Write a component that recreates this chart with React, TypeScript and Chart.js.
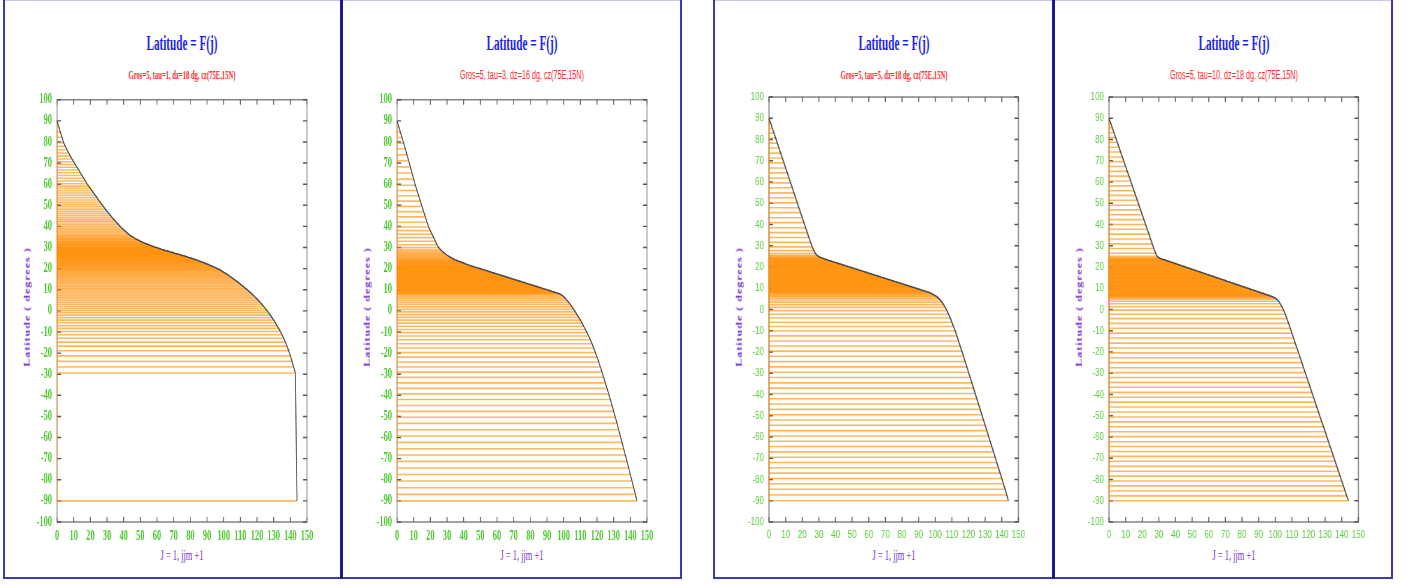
import React, { useEffect, useRef } from "react";
import { Chart, registerables } from "chart.js";
Chart.register(...registerables);

// Latitude (degrees) read for each grid index j = 0 .. 144 (jjm + 1 points)
const LAT_TAU1 = [
  90.0, 87.4, 84.8, 82.2, 79.6, 77.9, 76.3, 74.8, 73.3, 71.9,
  70.6, 69.3, 68.0, 66.7, 65.4, 64.1, 62.8, 61.5, 60.2, 59.1,
  58.0, 56.9, 55.8, 54.7, 53.6, 52.5, 51.4, 50.3, 49.3, 48.2,
  47.2, 46.2, 45.3, 44.3, 43.4, 42.5, 41.6, 40.8, 39.9, 39.1,
  38.4, 37.7, 37.0, 36.3, 35.7, 35.2, 34.7, 34.2, 33.8, 33.4,
  33.0, 32.6, 32.3, 31.9, 31.6, 31.3, 31.0, 30.7, 30.4, 30.1,
  29.9, 29.6, 29.4, 29.1, 28.9, 28.6, 28.4, 28.2, 27.9, 27.7,
  27.5, 27.2, 27.0, 26.8, 26.6, 26.3, 26.1, 25.8, 25.6, 25.3,
  25.1, 24.8, 24.5, 24.3, 24.0, 23.7, 23.4, 23.1, 22.8, 22.5,
  22.2, 21.9, 21.5, 21.2, 20.8, 20.5, 20.1, 19.7, 19.3, 18.8,
  18.3, 17.8, 17.3, 16.8, 16.2, 15.7, 15.1, 14.5, 13.9, 13.3,
  12.7, 12.0, 11.4, 10.7, 10.1, 9.4, 8.7, 8.0, 7.2, 6.4,
  5.6, 4.8, 3.9, 3.0, 2.1, 1.1, 0.1, -0.9, -2.0, -3.2,
  -4.4, -5.6, -7.0, -8.3, -9.8, -11.3, -13.0, -14.8, -16.7, -18.9,
  -21.3, -23.9, -26.6, -29.4, -90.0,
];

const LAT_TAU3 = [
  90.0, 87.4, 84.7, 82.1, 79.4, 76.7, 73.9, 71.1, 68.2, 65.3,
  62.4, 59.5, 57.0, 54.5, 52.0, 49.5, 47.0, 44.5, 42.0, 39.7,
  38.0, 36.3, 34.7, 33.0, 31.3, 30.0, 29.1, 28.3, 27.6, 27.0,
  26.4, 25.9, 25.4, 24.9, 24.5, 24.1, 23.8, 23.5, 23.2, 22.9,
  22.6, 22.3, 22.0, 21.7, 21.4, 21.2, 20.9, 20.7, 20.4, 20.2,
  20.0, 19.7, 19.5, 19.2, 19.0, 18.7, 18.5, 18.2, 18.0, 17.7,
  17.5, 17.2, 17.0, 16.7, 16.5, 16.2, 16.0, 15.7, 15.5, 15.2,
  15.0, 14.7, 14.5, 14.2, 14.0, 13.7, 13.5, 13.2, 13.0, 12.7,
  12.5, 12.2, 12.0, 11.7, 11.5, 11.2, 11.0, 10.7, 10.5, 10.2,
  10.0, 9.7, 9.5, 9.2, 9.0, 8.7, 8.5, 8.2, 7.9, 7.4,
  6.7, 5.9, 5.0, 4.0, 3.0, 1.9, 0.7, -0.5, -1.8, -3.1,
  -4.4, -5.8, -7.3, -8.8, -10.3, -11.9, -13.7, -15.6, -17.6, -19.7,
  -21.9, -24.2, -26.6, -29.0, -31.5, -34.1, -36.7, -39.3, -42.0, -44.8,
  -47.6, -50.4, -53.3, -56.3, -59.3, -62.3, -65.3, -68.3, -71.3, -74.4,
  -77.5, -80.6, -83.8, -86.9, -90.0,
];

const LAT_TAU5 = [
  90.0, 87.7, 85.3, 83.0, 80.7, 78.3, 76.0, 73.6, 71.3, 69.0,
  66.6, 64.3, 61.9, 59.6, 57.3, 54.9, 52.6, 50.2, 47.9, 45.6,
  43.2, 40.9, 38.5, 36.2, 33.9, 31.6, 29.5, 27.7, 26.3, 25.4,
  24.9, 24.5, 24.2, 23.9, 23.6, 23.4, 23.1, 22.9, 22.6, 22.4,
  22.1, 21.9, 21.6, 21.4, 21.1, 20.9, 20.6, 20.4, 20.1, 19.9,
  19.6, 19.4, 19.1, 18.9, 18.6, 18.4, 18.1, 17.9, 17.6, 17.4,
  17.1, 16.9, 16.6, 16.4, 16.1, 15.9, 15.6, 15.4, 15.1, 14.9,
  14.6, 14.4, 14.1, 13.9, 13.6, 13.4, 13.1, 12.9, 12.6, 12.4,
  12.1, 11.9, 11.6, 11.4, 11.1, 10.9, 10.6, 10.4, 10.1, 9.9,
  9.6, 9.4, 9.1, 8.9, 8.6, 8.4, 8.1, 7.8, 7.4, 7.0,
  6.5, 6.0, 5.3, 4.5, 3.5, 2.3, 1.0, -0.5, -2.2, -4.0,
  -6.0, -8.0, -10.1, -12.4, -14.8, -17.2, -19.6, -22.0, -24.5, -27.0,
  -29.5, -32.0, -34.5, -37.0, -39.5, -42.0, -44.5, -47.0, -49.5, -52.0,
  -54.5, -57.0, -59.5, -62.0, -64.5, -67.0, -69.5, -72.0, -74.5, -77.0,
  -79.5, -82.0, -84.6, -87.3, -90.0,
];

const LAT_TAU10 = [
  90.0, 87.7, 85.5, 83.2, 80.9, 78.7, 76.4, 74.1, 71.8, 69.6,
  67.3, 65.0, 62.8, 60.5, 58.2, 55.9, 53.7, 51.4, 49.1, 46.9,
  44.6, 42.3, 40.0, 37.8, 35.5, 33.2, 30.9, 28.7, 26.5, 25.0,
  24.4, 24.0, 23.7, 23.5, 23.2, 22.9, 22.7, 22.4, 22.1, 21.9,
  21.6, 21.3, 21.1, 20.8, 20.5, 20.3, 20.0, 19.7, 19.5, 19.2,
  18.9, 18.7, 18.4, 18.1, 17.9, 17.6, 17.3, 17.1, 16.8, 16.5,
  16.3, 16.0, 15.7, 15.5, 15.2, 14.9, 14.7, 14.4, 14.1, 13.9,
  13.6, 13.3, 13.1, 12.8, 12.5, 12.3, 12.0, 11.7, 11.5, 11.2,
  10.9, 10.7, 10.4, 10.1, 9.9, 9.6, 9.3, 9.1, 8.8, 8.5,
  8.3, 8.0, 7.7, 7.5, 7.2, 6.9, 6.7, 6.4, 6.1, 5.8,
  5.4, 4.8, 3.9, 2.7, 1.3, -0.3, -2.2, -4.3, -6.5, -8.8,
  -11.1, -13.4, -15.8, -18.1, -20.4, -22.7, -25.0, -27.4, -29.7, -32.0,
  -34.3, -36.6, -39.0, -41.3, -43.6, -45.9, -48.2, -50.6, -52.9, -55.2,
  -57.5, -59.8, -62.2, -64.5, -66.8, -69.1, -71.4, -73.8, -76.1, -78.4,
  -80.7, -83.0, -85.4, -87.7, -90.0,
];

const TITLE = "Latitude = F(j)";
const SUBTITLES = [
  "Gros=5, tau=1, dz=18 dg, cz(75E,15N)",
  "Gros=5, tau=3, dz=16 dg, cz(75E,15N)",
  "Gros=5, tau=5, dz=18 dg, cz(75E,15N)",
  "Gros=5, tau=10, dz=18 dg, cz(75E,15N)",
];
const X_TITLE = "J = 1, jjm +1";
const Y_TITLE = "Latitude ( degrees )";
const X_MIN = 0, X_MAX = 150, X_STEP = 10;
const Y_MIN = -100, Y_MAX = 100, Y_STEP = 10;

const SERIF = "'Liberation Serif', 'Times New Roman', serif";
const SANS = "'Liberation Sans', Arial, sans-serif";

type PanelCfg = {
  lats: number[];
  subtitle: string;
  plotLeft: number;
  s: number;
  tickFamily: string;
  tickWeight: string;
  tickSize: number;
  tickColor: string;
  subSerif: boolean;
};

const PANELS: PanelCfg[] = [
  { lats: LAT_TAU1, subtitle: SUBTITLES[0], plotLeft: 57, s: 0.6, tickFamily: SERIF, tickWeight: "bold", tickSize: 14, tickColor: "#4cc82c", subSerif: true },
  { lats: LAT_TAU3, subtitle: SUBTITLES[1], plotLeft: 397, s: 0.6, tickFamily: SERIF, tickWeight: "bold", tickSize: 14, tickColor: "#4cc82c", subSerif: false },
  { lats: LAT_TAU5, subtitle: SUBTITLES[2], plotLeft: 769, s: 0.7, tickFamily: SANS, tickWeight: "normal", tickSize: 11.5, tickColor: "#55cc36", subSerif: true },
  { lats: LAT_TAU10, subtitle: SUBTITLES[3], plotLeft: 1109, s: 0.7, tickFamily: SANS, tickWeight: "normal", tickSize: 11.5, tickColor: "#55cc36", subSerif: false },
];

const PLOT_W = 250;
const PLOT_TOP = 93;
const PLOT_H = 429;

function framePlugin(s: number) {
  return {
    id: "frameTicks",
    beforeDatasetsDraw(chart: any) {
      const { ctx, chartArea } = chart;
      const { left, right, top, bottom } = chartArea;
      const xs = chart.scales.x;
      const ys = chart.scales.y;
      ctx.save();
      ctx.strokeStyle = "#8a8a8a";
      ctx.lineWidth = 1.6;
      ctx.strokeRect(left, top, right - left, bottom - top);
      ctx.strokeStyle = "#555555";
      ctx.lineWidth = 1.4;
      ctx.beginPath();
      xs.ticks.forEach((t: any) => {
        const px = xs.getPixelForValue(t.value);
        ctx.moveTo(px, bottom);
        ctx.lineTo(px, bottom - 5);
        ctx.moveTo(px, top);
        ctx.lineTo(px, top + 5);
      });
      ys.ticks.forEach((t: any) => {
        const py = ys.getPixelForValue(t.value);
        ctx.moveTo(right, py);
        ctx.lineTo(right - 4 / s, py);
        ctx.moveTo(left, py);
        ctx.lineTo(left + 4 / s, py);
      });
      ctx.stroke();
      ctx.restore();
    },
  };
}

function Panel({ cfg }: { cfg: PanelCfg }) {
  const ref = useRef<HTMLCanvasElement>(null);
  const s = cfg.s;
  const W = Math.round((PLOT_W + 50) / s);
  const H = PLOT_H + 10 + 26;

  useEffect(() => {
    const curve = cfg.lats.map((lat, j) => ({ x: j, y: lat }));
    // one horizontal stroke per grid latitude, from x = 0 to x = j (joined on the left edge)
    const strokes = cfg.lats.map((lat, j) => {
      const pts = [] as { x: number; y: number }[];
      if (j > 0) pts.push({ x: 0, y: cfg.lats[j - 1] });
      pts.push({ x: 0, y: lat }, { x: j, y: lat });
      return {
        data: pts,
        borderColor: "rgba(255,140,0,0.62)",
        borderWidth: 1.6,
        showLine: true,
        pointRadius: 0,
        clip: 4,
      } as any;
    });
    const font = { family: cfg.tickFamily, size: cfg.tickSize, weight: cfg.tickWeight as any };
    const chart = new Chart(ref.current as HTMLCanvasElement, {
      type: "scatter",
      data: {
        datasets: [
          {
            data: curve,
            borderColor: "#4a4a4a",
            borderWidth: 1.6,
            showLine: true,
            pointRadius: 0,
            clip: 4,
          } as any,
          ...strokes,
        ],
      },
      options: {
        responsive: false,
        animation: false,
        events: [],
        layout: { padding: { top: 10, right: 10 / s, left: 0, bottom: 0 } },
        plugins: {
          legend: { display: false },
          tooltip: { enabled: false },
          title: { display: false },
        },
        scales: {
          x: {
            type: "linear",
            min: X_MIN,
            max: X_MAX,
            grid: { display: false, drawTicks: false },
            border: { display: false },
            ticks: { stepSize: X_STEP, autoSkip: false, maxRotation: 0, color: cfg.tickColor, font, padding: 6 },
            afterFit: (sc: any) => { sc.height = 26; },
          },
          y: {
            type: "linear",
            min: Y_MIN,
            max: Y_MAX,
            grid: { display: false, drawTicks: false },
            border: { display: false },
            ticks: { stepSize: Y_STEP, autoSkip: false, color: cfg.tickColor, font, padding: 5 / s },
            afterFit: (sc: any) => { sc.width = 40 / s; },
          },
        } as any,
      },
      plugins: [framePlugin(s)],
    });
    return () => chart.destroy();
  }, []);

  const cx = cfg.plotLeft + PLOT_W / 2;
  const abs: React.CSSProperties = { position: "absolute", whiteSpace: "nowrap", lineHeight: 1 };
  const subStyle: React.CSSProperties = cfg.subSerif
    ? { font: `bold 12px ${SERIF}`, transform: "translate(-50%,-50%) scaleX(0.55)" }
    : { font: `12px ${SANS}`, transform: "translate(-50%,-50%) scaleX(0.6)" };
  return (
    <>
      <canvas
        ref={ref}
        width={W}
        height={H}
        style={{ position: "absolute", left: cfg.plotLeft - 40, top: PLOT_TOP - 10, transform: `scaleX(${s})`, transformOrigin: "0 0" }}
      />
      <div style={{ ...abs, left: cx, top: 43, transform: "translate(-50%,-50%) scaleX(0.56)", font: `bold 20px ${SERIF}`, color: "#1f1fef" }}>{TITLE}</div>
      <div style={{ ...abs, left: cx, top: 75, color: "#ff2b2b", ...subStyle }}>{cfg.subtitle}</div>
      <div style={{ ...abs, left: cx, top: 556, transform: "translate(-50%,-50%) scaleX(0.6)", font: `14px ${SERIF}`, color: "#7a30d0" }}>{X_TITLE}</div>
      <div style={{ ...abs, left: cfg.plotLeft - 30, top: 307, transform: "translate(-50%,-50%) rotate(-90deg) scaleY(0.7)", font: `bold 12px ${SERIF}`, letterSpacing: "1px", color: "#7a30d0" }}>{Y_TITLE}</div>
    </>
  );
}

function Bar({ l, t, w, h, c }: { l: number; t: number; w: number; h: number; c: string }) {
  return <div style={{ position: "absolute", left: l, top: t, width: w, height: h, background: c }} />;
}

export default function App() {
  const blue = "#3a3ab4";
  const navy = "#1c1c8a";
  const light = "#c9c9ea";
  return (
    <div style={{ position: "fixed", left: 0, top: 0, width: 1411, height: 584, background: "#fff", overflow: "hidden" }}>
      {PANELS.map((p, i) => (
        <Panel key={i} cfg={p} />
      ))}
      <Bar l={3} t={0} w={678} h={1} c={light} />
      <Bar l={714} t={0} w={679} h={1} c={light} />
      <Bar l={3} t={577} w={679} h={2} c={blue} />
      <Bar l={714} t={577} w={679} h={2} c={blue} />
      <Bar l={3} t={0} w={2} h={579} c={blue} />
      <Bar l={340} t={0} w={3} h={579} c={navy} />
      <Bar l={680} t={0} w={2} h={579} c={blue} />
      <Bar l={713} t={0} w={2} h={579} c={blue} />
      <Bar l={1052} t={0} w={3} h={579} c={navy} />
      <Bar l={1391} t={0} w={2} h={579} c={blue} />
    </div>
  );
}
